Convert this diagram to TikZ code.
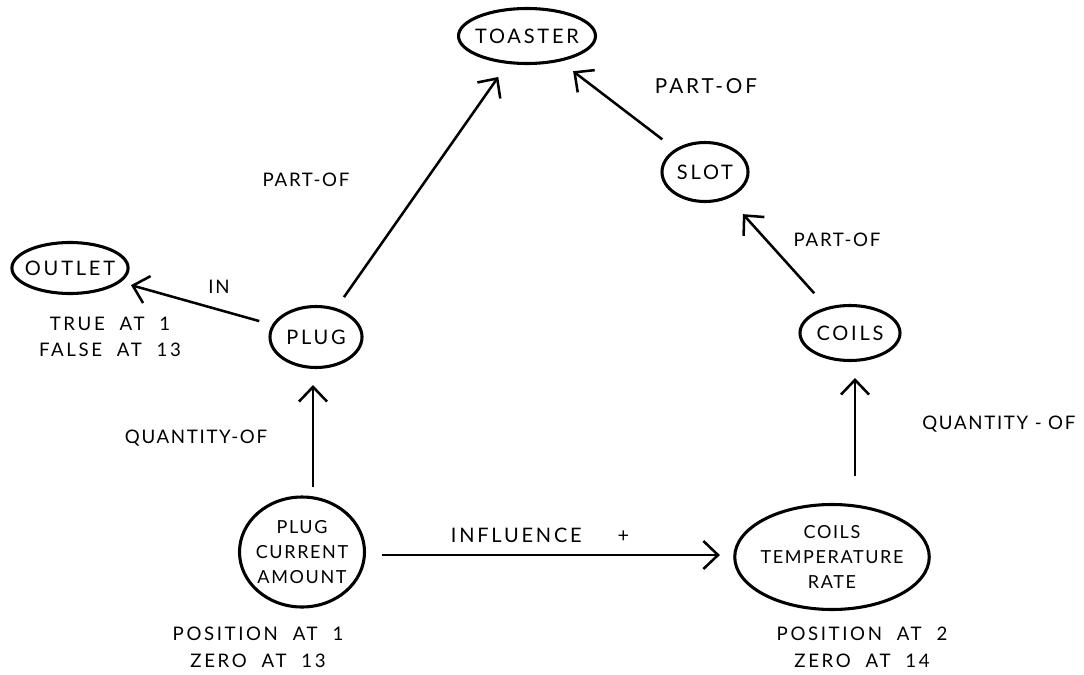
\documentclass[tikz,border=0pt]{standalone}
\usepackage{fontspec}
\setmainfont{Lato}
\newfontfamily\hand[LetterSpace=14]{Lato}
\newfontfamily\handtight[LetterSpace=9]{Lato}
\usetikzlibrary{shapes.geometric,arrows.meta}
\begin{document}
\begin{tikzpicture}[x=0.75pt,y=-0.75pt,
  concept/.style={draw,ellipse,line width=2.3pt,inner xsep=-3pt,inner ysep=0pt,align=center,
    font=\hand\fontsize{15}{17}\selectfont},
  bigconcept/.style={concept,inner xsep=-2pt,font=\handtight\fontsize{13.5}{16}\selectfont},
  rel/.style={line width=1.9pt,-{Straight Barb[length=11pt,width=21pt,line width=1.9pt]}},
  lbl/.style={font=\handtight\fontsize{14}{17}\selectfont},
  note/.style={font=\hand\fontsize{14}{20}\selectfont,align=center}]
\useasboundingbox (0,0) rectangle (1084,674);

% concept nodes
\node[concept,minimum width=137pt*0.75,minimum height=55pt*0.75] (toaster) at (527,36) {TOASTER};
\node[concept,minimum width=86pt*0.75,minimum height=59pt*0.75] (slot) at (705,172) {SLOT};
\node[concept,minimum width=114pt*0.75,minimum height=51pt*0.75] (outlet) at (70,268) {OUTLET};
\node[concept,minimum width=92pt*0.75,minimum height=61pt*0.75] (plug) at (316,337) {PLUG};
\node[concept,minimum width=100pt*0.75,minimum height=55pt*0.75] (coils) at (850,333) {COILS};
\node[bigconcept,minimum width=125pt*0.75,minimum height=110pt*0.75] (pca) at (302,552)
  {PLUG\\[3pt]CURRENT\\[3pt]AMOUNT};
\node[bigconcept,minimum width=170pt*0.75,minimum height=105pt*0.75] (ctr) at (832,557)
  {COILS\\[3pt]TEMPERATURE\\[3pt]RATE};

% relations
\draw[rel,shorten <=10pt,shorten >=12pt] (plug) -- (toaster);
\draw[rel,shorten <=12pt,shorten >=12pt] (slot) -- (toaster);
\draw[rel,shorten <=14pt,shorten >=16pt] (coils) -- (slot);
\draw[rel,shorten <=10pt,shorten >=8pt] (plug) -- (outlet);
\draw[rel,shorten <=6pt,shorten >=12pt] (pca.north -| 313,0) -- (plug.south -| 313,0);
\draw[rel,shorten <=20pt,shorten >=12pt] (ctr.north -| 855,0) -- (coils.south -| 855,0);
\draw[rel,shorten <=12pt,shorten >=10pt] (pca.east |- 0,555) -- (ctr.west |- 0,555);

% relation labels
\node[lbl] (l1) at (306,180) {PART-OF};
\node[lbl,font=\hand\fontsize{15.5}{17}\selectfont] (l2) at (706,86) {PART-OF};
\node[lbl] (l3) at (837,240) {PART-OF};
\node[lbl] (l4) at (219,287) {IN};
\node[lbl] (l5) at (196,438) {QUANTITY-OF};
\node[lbl,anchor=east] (l6) at (1080,424) {QUANTITY - OF};
\node[lbl,font=\hand\fontsize{15}{17}\selectfont] (l7) at (540,535) {INFLUENCE \quad\ +};

% value histories
\node[note] (n1) at (110,337) {TRUE \ AT \ 1\\FALSE \ AT \ 13};
\node[note] (n2) at (258,647) {POSITION \ AT \ 1\\ZERO \ AT \ 13};
\node[note] (n3) at (862,647) {POSITION \ AT \ 2\\ZERO \ AT \ 14};
\end{tikzpicture}
\end{document}
